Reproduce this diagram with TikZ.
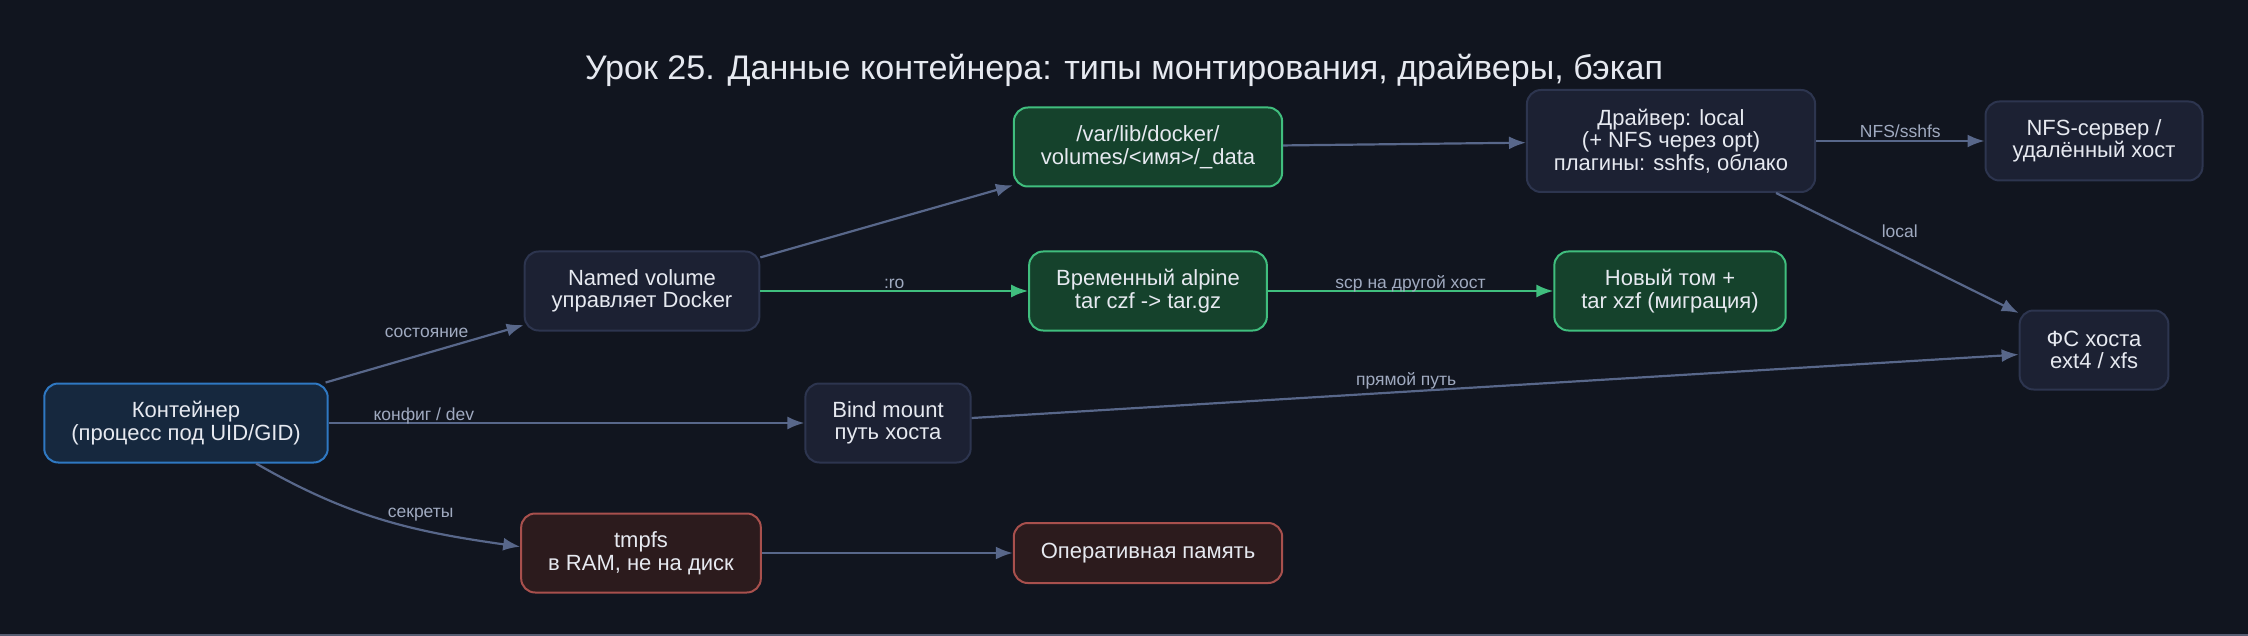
\documentclass[tikz,border=0pt]{standalone}
\usepackage{fontspec}
\setmainfont{Liberation Sans}
\usepackage{xcolor}
\usetikzlibrary{arrows.meta,positioning}
\definecolor{bgc}{HTML}{11151F}
\definecolor{boxfill}{HTML}{1C2133}
\definecolor{boxline}{HTML}{2D354F}
\definecolor{ctrfill}{HTML}{16283E}
\definecolor{ctrline}{HTML}{2F78C2}
\definecolor{grnfill}{HTML}{15422C}
\definecolor{grnline}{HTML}{40BE7E}
\definecolor{redfill}{HTML}{2C1B1D}
\definecolor{redline}{HTML}{A8504D}
\definecolor{edgec}{HTML}{58678A}
\definecolor{lblc}{HTML}{A0AAC0}
\definecolor{txtc}{HTML}{E6E9F0}
\tikzset{
  vbox/.style={draw=boxline, fill=boxfill, line width=2pt, rounded corners=14pt, align=center, text=txtc, font=\fontsize{22}{22.6}\selectfont, inner xsep=27pt, inner ysep=4pt, minimum height=79pt},
  cbox/.style={vbox, draw=ctrline, fill=ctrfill},
  gbox/.style={vbox, draw=grnline, fill=grnfill},
  rbox/.style={vbox, draw=redline, fill=redfill},
  varr/.style={-{Latex[length=17pt,width=13pt]}, line width=2.2pt, draw=edgec},
  garr/.style={varr, draw=grnline},
  elbl/.style={font=\fontsize{17.5}{20}\selectfont, text=lblc, inner sep=0pt, anchor=base}
}
\begin{document}
\begin{tikzpicture}[x=1pt, y=1pt, on grid]
\fill[bgc] (0,0) rectangle (2248,-636);
\fill[boxline!80!white] (0,-634) rectangle (2248,-636);
\useasboundingbox (0,0) rectangle (2248,-636);
\node[anchor=base, text=txtc, font=\fontsize{34.1}{38}\selectfont] (title) at (1124,-80) {Урок 25. Данные контейнера: типы монтирования, драйверы, бэкап};
\node[cbox] (ctr) at (186,-423) {Контейнер\\(процесс под UID/GID)};
\node[vbox, above right=132pt and 456pt of ctr] (named) {Named volume\\управляет Docker};
\node[vbox, right=702pt of ctr] (bind) {Bind mount\\путь хоста};
\node[rbox, below right=130pt and 455pt of ctr] (tmpfs) {tmpfs\\в RAM, не на диск};
\node[rbox, right=507pt of tmpfs, minimum height=60pt] (ram) {Оперативная память};
\node[gbox, right=506pt of named] (alp) {Временный alpine\\tar czf -> tar.gz};
\node[gbox, above=144pt of alp] (vdir) {/var/lib/docker/\\volumes/<имя>/\_data};
\node[gbox, right=522pt of alp] (newvol) {Новый том +\\tar xzf (миграция)};
\node[vbox, above right=6pt and 523pt of vdir, minimum height=102pt] (drv) {Драйвер: local\\(+ NFS через opt)\\плагины: sshfs, облако};
\node[vbox, right=423pt of drv] (nfs) {NFS-сервер /\\удалённый хост};
\node[vbox, below=209pt of nfs] (hostfs) {ФС хоста\\ext4 / xfs};
\draw[varr] (ctr) -- node[elbl, pos=0.51, yshift=16pt] {состояние} (named);
\draw[varr] (ctr) -- node[elbl, pos=0.2, yshift=3pt] {конфиг / dev} (bind);
\draw[varr] (ctr.-30) to[out=-30, in=172] node[elbl, pos=0.65, yshift=12pt] {секреты} (tmpfs.177);
\draw[varr] (tmpfs) -- (ram);
\draw[varr] (named) -- (vdir);
\draw[garr] (named) -- node[elbl, yshift=3pt] {:ro} (alp);
\draw[garr] (alp) -- node[elbl, yshift=3pt] {scp на другой хост} (newvol);
\draw[varr] (vdir) -- (drv);
\draw[varr] (drv) -- node[elbl, yshift=3pt] {NFS/sshfs} (nfs);
\draw[varr] (drv) -- node[elbl, pos=0.51, yshift=17pt] {local} (hostfs);
\draw[varr] (bind) -- node[elbl, pos=0.415, yshift=6pt] {прямой путь} (hostfs);
\end{tikzpicture}
\end{document}
